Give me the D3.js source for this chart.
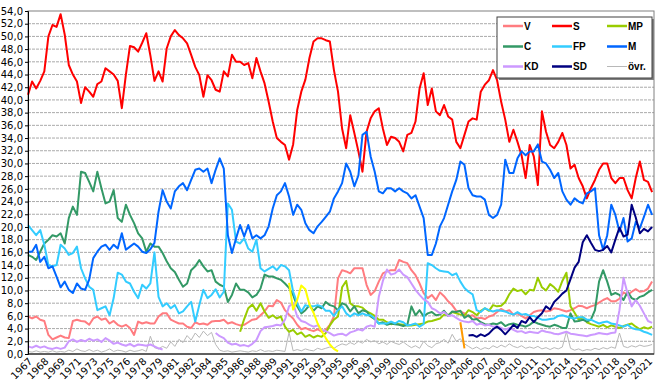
<!DOCTYPE html>
<html>
<head>
<meta charset="utf-8">
<script src="https://cdn.jsdelivr.net/npm/d3@7"></script>
<style>
  body { margin: 0; background: #fff; }
  text { font-family: "DejaVu Sans", sans-serif; fill: #000; }
  .legend text { font-family: "Liberation Sans", Arial, sans-serif; font-weight: bold; font-size: 10px; }
</style>
</head>
<body>
<svg id="chart" width="660" height="385"></svg>
<script>
// x labels, one every 4 polls
const years = ["1967","1968","1969","1971","1973","1975","1976","1978","1979","1981","1982","1984","1985",
  "1986","1988","1989","1991","1992","1993","1995","1996","1997","1999","2000","2002","2003","2004","2006",
  "2007","2008","2010","2011","2012","2014","2015","2017","2018","2019","2021"];
const yTickValues = [0,2,4,6,8,10,12,14,16,18,20,22,24,26,28,30,32,34,36,38,40,42,44,46,48,50,52,54];

// poll values (%), index 0 = first poll 1967
const S = [40.8,42.9,41.8,43,44.5,50,51.8,51.5,53.5,50.3,45.5,44,42.9,39.5,42,41.3,40.5,42.5,42.9,45,44.5,44,43,38.7,44,48.5,48.3,47.6,49,50.5,47,43,
  44.5,42.9,48.1,50,51,50.2,49.7,48.9,47.1,45.2,43.9,40.5,43.9,43.1,41.6,41.3,44.5,43.7,47.1,46,46,45.5,45.8,43.4,46.6,44.5,42.6,39.7,36.6,34,33.4,
  32.9,30.6,33,38.4,41.3,43.2,46.6,49.2,49.7,49.7,49.4,49.2,44.7,41.3,35.5,32.4,37.6,34.8,31.9,28.7,35,37.1,38.2,38.7,35.5,32.9,34.2,34,33.4,31.9,
  34.5,34.8,36.6,41.8,44.2,39.2,41.8,38.2,37.6,39.2,37.4,36.9,33.4,32.4,34.5,36.6,37.1,36.9,41.3,42.4,43.1,44.7,43.1,39.7,36.9,33.4,35.3,33.4,31.3,27.7,32.9,
  31.1,26.6,38.2,35,32.9,32.4,33.4,34.8,32.9,29.2,29.8,27.7,26.4,24.5,26.1,27.4,29,30,30,27.7,26.9,27.7,27.7,25.8,24.5,27.7,30.3,27.4,27.1,25.5];
const M = [16.1,16.1,17.2,14.5,15.3,13.5,13.8,12.2,10.5,11.4,10.1,9.6,11.1,10.3,10.1,11.7,15.1,16.1,16.9,17.2,16.4,17.2,16.6,19,16.4,16.9,17.4,16.9,16.1,15.9,16.5,17.5,
  22.4,25.8,24,22.9,25.6,26.4,26.9,25.8,27.4,29,29.2,28.7,29.2,26.9,29,30.8,29.2,18.7,15.9,18.2,20.3,18.5,20.3,18.2,18.7,18.2,18.7,20.1,22.9,25,25.6,
  26.9,24.8,21.9,23.5,22.7,20.6,19.5,19,20.1,20.8,21.6,22.4,24.5,25.6,26.9,30,28.7,26.4,28.1,34.5,35,31.1,28.7,25.6,25.3,26.1,26.1,25.6,26.1,25.6,
  25.3,24.5,25,23.2,21.4,15.6,15.6,17.4,20.1,21.4,23.5,25.6,27.4,30.3,29.8,26.1,25,24.8,24.8,24.3,21.9,21.4,21.9,23.5,30.6,28.5,28.5,30.8,31.9,31.3,31.9,
  31.9,33,30.3,30,29,27.7,28.5,25.6,24.3,23.5,24.5,24,23.7,25.3,25.6,26.1,18.7,16.4,18.7,23.5,21.9,19.3,21.4,17.7,18.2,20.8,19.8,21.6,23.5,21.9];
const C = [15.6,15.3,14.8,16.1,17.4,18,18.7,18.5,19,17.4,21.4,23.2,21.9,28.7,28.5,27.1,25.6,28.7,26.1,23.7,24,25.8,21.4,20.8,23.5,21.9,20.6,19,18.2,16.1,17.4,16.9,
  16.9,15.9,14.6,13.5,12.9,11.7,10.6,11.1,13.2,13.8,14.8,13.8,13,13.2,11.4,10.9,10.6,8.2,9.3,11.1,10.1,10.1,9.7,8.9,9.3,10.3,12.5,12.2,12.2,11.9,11.7,
  11.1,10.4,9.3,7.5,6.4,6.9,7.7,6.8,7.5,7.2,8.2,7.7,7.5,6.9,8,7.7,6.7,7.5,6.4,6.9,6.7,5.9,5.5,4.8,5,4.6,4.8,4.7,4.6,4.4,
  4.6,7.5,6.1,6.9,5.9,6.4,6.6,6.1,6.2,6.8,6,6.7,6.6,6.8,5.7,6.1,5.4,5.5,5,4.7,4.6,4.8,4.7,5,4.4,4.7,4.8,4.6,4.5,4.3,4.6,
  5.1,4.8,4.6,4.4,4.3,4.6,4.4,4.1,4.1,6.4,5.1,5.2,5.4,5.1,5.4,6.9,11.4,13.2,11.4,9.3,9.6,9.3,8.5,9.8,8.8,8.5,9,9.2,9.7,10.1];
const FP = [20.3,19.5,18.7,19.5,17.2,14,13.8,14,17.2,16.6,15.6,15.9,16.9,13.5,11.9,10.6,10.1,6.9,7.2,7.5,6.1,8.8,12.8,12.5,11.4,11.1,9.8,8.8,10.9,10.3,11.1,16,
  9,7.5,8,7.2,7.7,6.4,6.7,7.5,8.2,5.1,7.7,10.1,8.8,9.3,10.2,8.9,9.8,23.7,22.7,17.7,17.4,18.2,16.6,16.1,18,13.5,13,13.4,13.8,13.2,14,
  13.8,13.2,9.8,8,6.7,7.7,7.5,7.5,7.7,7.5,6.8,6.8,6,6.9,7.5,6.4,5.9,6.4,6.1,6.4,6.1,6.1,5.6,4.8,4.8,4.8,5.1,4.8,5.2,5,
  4.5,4.6,4.8,4.3,4.7,14.3,14,13.5,13.1,13,12.9,12.4,12.7,11.4,10.4,9.8,9.4,6.9,6.6,7.2,6.9,6.7,6.9,6.8,6.7,6.4,6.2,6.6,6.2,6.3,6,
  6,5.7,5.4,5.4,5.5,5.6,6,6.1,5.9,5.7,5.6,5.8,5.8,5.4,5.4,5.1,4.8,5,5.1,4.8,4.7,4.5,4.3,4.6,4.1,3.9,3.8,3.5,3.3,3];
const V = [5.9,5.6,5.9,5.4,5.2,3,2.3,2.6,2.9,2.6,2.5,5.2,5.4,5.2,5.1,4.6,5.6,5.9,5.4,5.6,4.8,5.2,4.6,4.3,4.6,4.1,3,5.1,4.8,5,4.8,4.8,
  5.9,6.4,6.4,5.4,5.1,4.8,4.8,4.3,4.1,5,4.7,4.8,4.6,5.1,5.2,5.2,5.4,4.8,5,4.7,4.5,4.6,5,5.4,5.5,6.1,6.7,7.6,7.5,8.5,8.1,
  6.9,6.2,5.6,4.6,3.9,4.1,3.8,3.6,3.9,3.5,3.8,4.6,5.9,11.9,13.2,13,12.7,13.5,13.5,13.5,10.9,9.3,9.9,11.4,12.7,13,13.2,13.2,14.8,14.5,
  14.3,13.2,12.4,11.1,9.6,8.8,9.3,8.5,9.7,9.1,8.3,7.7,6.8,6.7,6.4,5.9,6.1,5.6,5.7,5.5,5.9,6.1,6.6,7.1,6.7,6.9,6.2,6.4,6,5.6,6.1,
  6.6,6.8,6.9,6.7,6.8,7.2,7.1,6.9,6.7,6.9,7.2,7.6,7.5,7.2,7.5,7.7,8.1,8.5,8.8,8.3,8.3,8.7,9.7,9.3,9.8,10.2,9.8,9.9,10.3,11.4];
const MP_START = 52;
const MP = [3.5,5.5,7.2,7.8,6.8,8,6.7,5.7,6.1,5.6,5.9,
  4.3,3.5,3.8,3.1,3.4,2.7,3,2.6,2.9,2.7,3.3,4.5,5.4,5.9,10.5,11.5,8,7.5,7.5,7.3,6.7,6.4,6,5.4,5.4,5,4.7,4.8,4.7,4.6,
  4.5,4.5,4.6,4.7,4.8,5.1,5.2,5.4,5.6,6.2,6.1,6.6,6.4,6.2,6.1,6.9,6.6,6.1,6.8,7.2,6.8,7.7,7.5,7.6,8.2,9.4,10.3,9.9,10.1,9.4,10.1,
  10,12,10.5,10,11,10.5,9.8,11.5,12.8,7.5,6.5,5.4,5.8,5,4.7,4.5,4.3,4.6,4.2,4.5,4.3,4.1,4.4,4.6,4.8,4.3,3.9,4.2,4,4.3];
const KD = [1.2,1,1.3,1,1.2,0.9,0.8,1,0.8,1,2,2.3,1.9,2.2,2,2.4,2.1,2.3,1.9,2.5,2.1,1.6,1.8,1.5,1.3,1.6,1.2,1.5,1.4,1.3,1.5,1.2,0.9,0.7,
  null,null,null,null,null,null,null,null,null,null,null,null,
  3.3,2.8,2.5,1.8,1.5,1.6,1.3,1.4,1.2,1.6,2.2,3.6,4.2,4.3,4.4,4.6,4.5,
  5.4,7.5,8,5.9,5.2,5,4.6,4.3,4.5,3.8,3.6,3.3,2.9,3.1,3.2,2.9,3.4,3.6,3.9,3.7,4.3,4.5,4.3,9,11.5,13.3,12.5,12.7,13.3,12.5,
  12.1,11.1,10.1,9.3,8.6,8.2,7.2,6.9,6.4,6.6,6,6.1,5.7,5.3,5.1,5,5.2,4.6,4.8,4.5,4.6,4.3,4.4,4.1,3.8,4.1,3.8,3.5,3.6,3.3,3.5,
  3.4,3.3,3.7,3.5,3.4,3.2,3.1,3.3,3.5,3.2,3.1,3,2.9,2.8,3,3.1,3.3,3.2,3.1,3.3,3.4,6.9,12,9.5,7.5,8.5,7.6,6.4,5.2,4.9];
const SD_START = 108;
const SD = [2.9,3,2.7,3.1,2.8,3.2,3.9,4.3,3.8,3.1,3.8,4.6,4.1,5.2,4.9,5.8,5,5.8,6.4,7.5,7,8.2,8.8,9.5,10,11.8,13.6,14.5,17.6,18.7,
  17.5,16.4,16.2,16.4,17,16,18,19.9,18.5,18.8,23.5,21.5,19,19.7,19.3,20];
const OVR = [0.4,0.3,0.5,0.3,0.4,0.3,0.5,0.3,0.4,0.3,0.6,0.4,0.8,0.5,0.4,0.7,0.4,0.6,0.3,0.5,0.8,0.4,0.6,0.5,0.3,0.6,0.4,0.5,0.7,0.4,2.8,1,
  0.8,1.2,0.9,1.9,1.2,2.3,1.8,2.9,2.2,3.3,2.6,3.6,2.9,3.4,1.5,0.6,0.4,0.5,0.3,0.4,0.5,0.4,0.3,0.5,0.4,0.7,0.4,0.5,0.4,0.6,0.5,
  0.4,3.4,0.5,0.7,0.5,0.8,0.6,0.5,0.9,0.7,0.9,1.1,0.9,1.3,1.6,1.4,1.8,1.5,2,1.7,2.3,1.9,2.1,1.6,1.9,1.5,2,1.7,1.5,1.9,
  1.4,1,1.3,0.9,2,1.3,1,1.6,1.8,2.3,1.7,3.1,2,2.4,1.6,1.2,0.8,1.1,0.7,1,0.8,1.3,1,1.4,1.1,1.6,1.2,1,1.3,0.9,1.1,
  0.9,1.2,0.8,1,0.7,1,0.8,1.1,3.5,0.9,0.6,0.8,0.5,0.7,0.6,0.9,0.7,1,0.8,1.1,0.9,3.3,1.2,1,1.3,1.1,1.4,1.2,1.3,1.5];
const NYD_START = 64;
const NYD = [11.2,7,8.5,10.8,10.2,7.8,6.5,4.8,3.6,2.5,1.5,0.8,0.4];
const FI_START = 106;
const FI = [5,0.9];

const series = [
  { name: "övr.", color: "#b8b8b8", width: 1, start: 0, values: OVR },
  { name: "V", color: "#ff7c80", width: 2, start: 0, values: V },
  { name: "S", color: "#ff0000", width: 2, start: 0, values: S },
  { name: "MP", color: "#99cc00", width: 2, start: MP_START, values: MP },
  { name: "C", color: "#339966", width: 2, start: 0, values: C },
  { name: "FP", color: "#33ccff", width: 2, start: 0, values: FP },
  { name: "M", color: "#0066ff", width: 2, start: 0, values: M },
  { name: "KD", color: "#cc99ff", width: 2, start: 0, values: KD },
  { name: "SD", color: "#000080", width: 2, start: SD_START, values: SD },
  { name: "NyD", color: "#ffff00", width: 2, start: NYD_START, values: NYD },
  { name: "Fi", color: "#ff9900", width: 2, start: FI_START, values: FI }
];
const legendOrder = ["V","S","MP","C","FP","M","KD","SD","övr."];

const plot = { left: 28, right: 654, top: 11, bottom: 354 };
const svg = d3.select("#chart");

const x = d3.scaleLinear().domain([0, 152]).range([28, 648]);
const y = d3.scaleLinear().domain([0, 54]).range([plot.bottom, plot.top]);
const fmt = v => d3.format(".1f")(v).replace(".", ",");

// grid lines
svg.append("g").selectAll("line")
  .data(yTickValues.filter(v => v > 0 && v < 54))
  .enter().append("line")
  .attr("x1", plot.left).attr("x2", plot.right)
  .attr("y1", d => y(d)).attr("y2", d => y(d))
  .attr("stroke", "#aaa")
  .attr("stroke-dasharray", "3,1");

// plot frame
svg.append("rect")
  .attr("x", plot.left).attr("y", plot.top)
  .attr("width", plot.right - plot.left).attr("height", plot.bottom - plot.top)
  .attr("fill", "none").attr("stroke", "#808080");

// lines
const line = d3.line()
  .defined(d => d.v != null)
  .x(d => x(d.i))
  .y(d => y(d.v));

svg.append("g").selectAll("path")
  .data(series)
  .enter().append("path")
  .attr("fill", "none")
  .attr("stroke", d => d.color)
  .attr("stroke-width", d => d.width)
  .attr("stroke-linejoin", "round")
  .attr("d", d => line(d.values.map((v, j) => ({ i: d.start + j, v: v }))));

// y axis
const yAxis = d3.axisLeft(y).tickValues(yTickValues).tickFormat(fmt).tickSize(3).tickPadding(2);
const ya = svg.append("g").attr("transform", `translate(${plot.left},0)`).call(yAxis);
ya.select(".domain").attr("stroke", "#000");
ya.selectAll("text").attr("font-size", 10).attr("font-family", "DejaVu Sans");

// x axis line
svg.append("line")
  .attr("x1", plot.left).attr("x2", plot.right)
  .attr("y1", plot.bottom).attr("y2", plot.bottom)
  .attr("stroke", "#000");

// x labels, rotated
svg.append("g").selectAll("text")
  .data(years)
  .enter().append("text")
  .attr("transform", (d, k) => `translate(${x(k * 4) + 5},362) rotate(-45)`)
  .attr("text-anchor", "end")
  .attr("font-size", 10)
  .text(d => d);

// legend
const lg = svg.append("g").attr("class", "legend");
lg.append("rect").attr("x", 499).attr("y", 19).attr("width", 155).attr("height", 61).attr("fill", "#808080");
lg.append("rect").attr("x", 497).attr("y", 17).attr("width", 155).attr("height", 61)
  .attr("fill", "#fff").attr("stroke", "#404040");
const colX = [503, 552, 607];
const rowY = [26, 46.5, 66.5];
legendOrder.forEach((name, k) => {
  const s = series.find(d => d.name === name);
  const cx = colX[k % 3], cy = rowY[Math.floor(k / 3)];
  lg.append("line").attr("x1", cx).attr("x2", cx + 20).attr("y1", cy).attr("y2", cy)
    .attr("stroke", s.color).attr("stroke-width", s.width === 1 ? 1 : 2.5);
  lg.append("text").attr("x", cx + 21).attr("y", cy + 3.5).text(name);
});
</script>
</body>
</html>
